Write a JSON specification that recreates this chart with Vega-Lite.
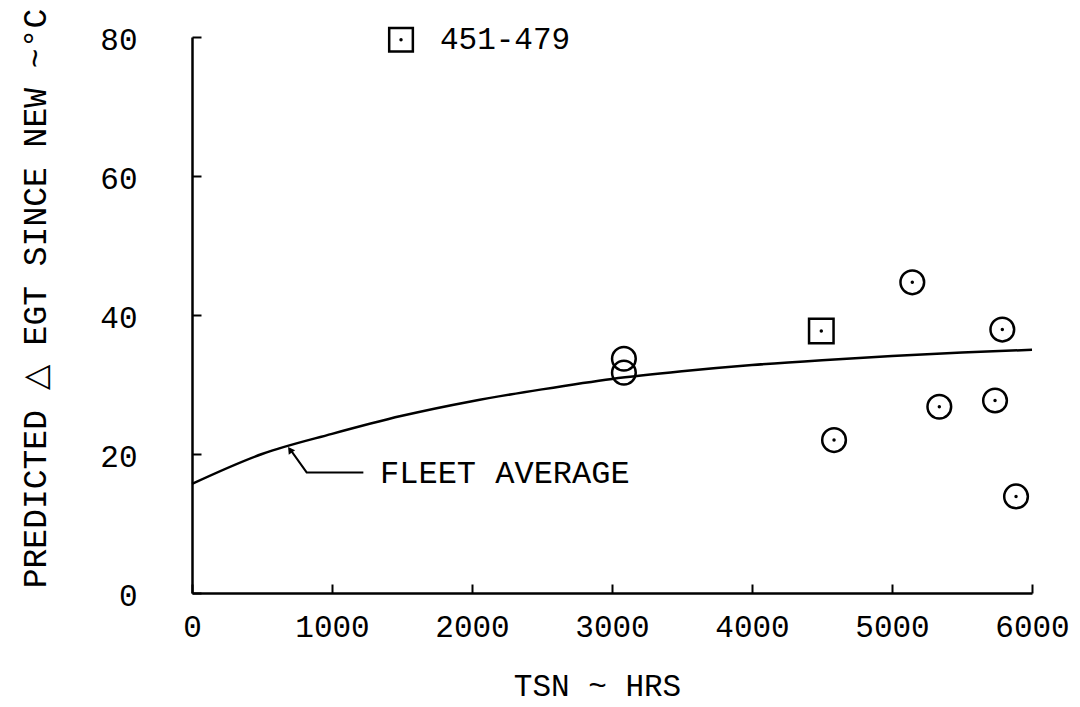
{
  "$schema": "https://vega.github.io/schema/vega-lite/v6.json",
  "width": 840,
  "height": 556,
  "autosize": {"type": "none"},
  "padding": {"left": 192, "top": 37, "right": 48, "bottom": 114},
  "background": "white",
  "config": {
    "view": {"stroke": null},
    "font": "Liberation Mono",
    "axis": {"grid": false, "domainColor": "black", "domainWidth": 2.5, "tickColor": "black", "tickWidth": 2, "labelColor": "black", "titleColor": "black", "labelFont": "Liberation Mono", "titleFont": "Liberation Mono", "labelFontWeight": "normal", "titleFontWeight": "normal"}
  },
  "datasets": {
    "fleet": [
      {"tsn": 0, "degt": 15.7},
      {"tsn": 500, "degt": 20.0},
      {"tsn": 1000, "degt": 22.9},
      {"tsn": 1500, "degt": 25.5},
      {"tsn": 2000, "degt": 27.6},
      {"tsn": 2500, "degt": 29.3},
      {"tsn": 3000, "degt": 30.8},
      {"tsn": 3500, "degt": 31.9},
      {"tsn": 4000, "degt": 32.8},
      {"tsn": 4500, "degt": 33.5},
      {"tsn": 5000, "degt": 34.1},
      {"tsn": 5500, "degt": 34.6},
      {"tsn": 6000, "degt": 35.0}
    ],
    "engines": [
      {"tsn": 3085, "degt": 33.7, "symbol": "open"},
      {"tsn": 3085, "degt": 31.7, "symbol": "open"},
      {"tsn": 4495, "degt": 37.7, "symbol": "square"},
      {"tsn": 5145, "degt": 44.7, "symbol": "dotted"},
      {"tsn": 5788, "degt": 37.9, "symbol": "dotted"},
      {"tsn": 5338, "degt": 26.8, "symbol": "dotted"},
      {"tsn": 5736, "degt": 27.7, "symbol": "dotted"},
      {"tsn": 4586, "degt": 22.0, "symbol": "dotted"},
      {"tsn": 5886, "degt": 13.9, "symbol": "dotted"}
    ],
    "legend": [
      {"tsn": 1493, "degt": 79.6, "label": "451-479", "tx": 1771}
    ],
    "leader": [
      {"tsn": 1224, "degt": 17.35, "o": 1},
      {"tsn": 819, "degt": 17.35, "o": 2},
      {"tsn": 700, "degt": 20.7, "o": 3}
    ],
    "note": [
      {"tsn": 1343, "degt": 17.3, "label": "FLEET AVERAGE", "ax": 700, "ay": 20.6}
    ]
  },
  "layer": [
    {
      "data": {"name": "fleet"},
      "mark": {"type": "line", "interpolate": "monotone", "color": "black", "strokeWidth": 2.5},
      "encoding": {
        "x": {"field": "tsn", "type": "quantitative", "scale": {"domain": [0, 6000], "nice": false, "zero": false},
          "axis": {"values": [0, 1000, 2000, 3000, 4000, 5000, 6000], "format": "d", "tickSize": -9, "labelPadding": 28, "labelFontSize": 31, "labelBaseline": "top", "labelFlush": false, "title": "TSN ~ HRS", "titleFontSize": 31, "titleX": 405, "titleY": 93, "titleBaseline": "middle", "titleAlign": "center"}},
        "y": {"field": "degt", "type": "quantitative", "scale": {"domain": [0, 80], "nice": false, "zero": false},
          "axis": {"values": [0, 20, 40, 60, 80], "tickSize": -9, "labelPadding": 64, "labelFontSize": 31, "labelOffset": 3, "labelFlush": false, "title": "PREDICTED △ EGT SINCE NEW ~°C", "titleFontSize": 33, "titleAngle": -90, "titleX": -157, "titleY": 261, "titleBaseline": "middle", "titleAlign": "center"}}
      }
    },
    {
      "data": {"name": "engines"},
      "transform": [{"filter": "datum.symbol !== 'square'"}],
      "mark": {"type": "point", "shape": "circle", "filled": false, "stroke": "black", "strokeWidth": 2.5, "size": 560, "opacity": 1},
      "encoding": {"x": {"field": "tsn", "type": "quantitative"}, "y": {"field": "degt", "type": "quantitative"}}
    },
    {
      "data": {"name": "engines"},
      "transform": [{"filter": "datum.symbol === 'square'"}],
      "mark": {"type": "point", "shape": "square", "filled": false, "stroke": "black", "strokeWidth": 2.5, "size": 600, "opacity": 1},
      "encoding": {"x": {"field": "tsn", "type": "quantitative"}, "y": {"field": "degt", "type": "quantitative"}}
    },
    {
      "data": {"name": "engines"},
      "transform": [{"filter": "datum.symbol !== 'open'"}],
      "mark": {"type": "point", "shape": "circle", "filled": true, "color": "black", "size": 12, "opacity": 1},
      "encoding": {"x": {"field": "tsn", "type": "quantitative"}, "y": {"field": "degt", "type": "quantitative"}}
    },
    {
      "data": {"name": "legend"},
      "mark": {"type": "point", "shape": "square", "filled": false, "stroke": "black", "strokeWidth": 2.5, "size": 560, "opacity": 1},
      "encoding": {"x": {"field": "tsn", "type": "quantitative"}, "y": {"field": "degt", "type": "quantitative"}}
    },
    {
      "data": {"name": "legend"},
      "mark": {"type": "point", "shape": "circle", "filled": true, "color": "black", "size": 12, "opacity": 1},
      "encoding": {"x": {"field": "tsn", "type": "quantitative"}, "y": {"field": "degt", "type": "quantitative"}}
    },
    {
      "data": {"name": "legend"},
      "mark": {"type": "text", "align": "left", "baseline": "middle", "fontSize": 31, "font": "Liberation Mono", "color": "black"},
      "encoding": {"x": {"field": "tx", "type": "quantitative"}, "y": {"field": "degt", "type": "quantitative"}, "text": {"field": "label"}}
    },
    {
      "data": {"name": "leader"},
      "mark": {"type": "line", "color": "black", "strokeWidth": 2},
      "encoding": {"x": {"field": "tsn", "type": "quantitative"}, "y": {"field": "degt", "type": "quantitative"}, "order": {"field": "o"}}
    },
    {
      "data": {"name": "note"},
      "mark": {"type": "point", "shape": "triangle-up", "filled": true, "color": "black", "size": 60, "angle": -35, "opacity": 1},
      "encoding": {"x": {"field": "ax", "type": "quantitative"}, "y": {"field": "ay", "type": "quantitative"}}
    },
    {
      "data": {"name": "note"},
      "mark": {"type": "text", "align": "left", "baseline": "middle", "fontSize": 32, "font": "Liberation Mono", "color": "black"},
      "encoding": {"x": {"field": "tsn", "type": "quantitative"}, "y": {"field": "degt", "type": "quantitative"}, "text": {"field": "label"}}
    }
  ]
}
